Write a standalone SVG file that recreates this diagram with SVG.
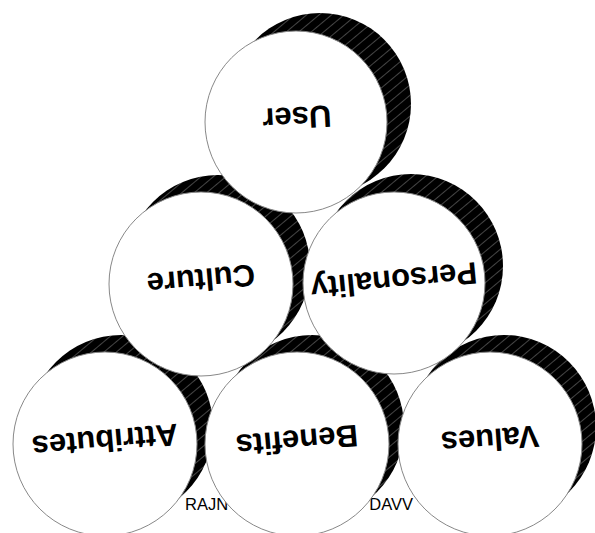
<svg xmlns="http://www.w3.org/2000/svg" width="595" height="533" viewBox="0 0 595 533">
  <defs>
    <pattern id="hatch" patternUnits="userSpaceOnUse" width="8" height="8" patternTransform="rotate(-40)">
      <rect width="8" height="8" fill="#000"/>
      <line x1="0" y1="0.5" x2="8" y2="0.5" stroke="#8a8a8a" stroke-width="0.5"/>
    </pattern>
  </defs>
  <style>
    .shadow { fill: url(#hatch); stroke: none; }
    .disc { fill: #fff; stroke: #888; stroke-width: 1; }
    .label { font-family: "Liberation Sans", Arial, sans-serif; font-weight: bold; font-size: 31px; fill: #000; text-anchor: middle; }
    .credit { font-family: "Liberation Sans", Arial, sans-serif; font-size: 16.5px; fill: #000; }
  </style>
  <rect width="595" height="533" fill="#fff"/>
  <g id="credit">
    <text class="credit" x="185" y="510">RAJN</text>
    <text class="credit" x="413" y="510" text-anchor="end">DAVV</text>
  </g>
  <g id="attributes">
    <circle class="shadow" cx="121" cy="427" r="92"/>
    <circle class="disc" cx="105" cy="444" r="92"/>
    <text class="label" transform="translate(105,441) rotate(175)" y="11">Attributes</text>
  </g>
  <g id="benefits">
    <circle class="shadow" cx="312" cy="427" r="92"/>
    <circle class="disc" cx="297" cy="444" r="92"/>
    <text class="label" transform="translate(297,441) rotate(175)" y="11">Benefits</text>
  </g>
  <g id="values">
    <circle class="shadow" cx="504" cy="427" r="92"/>
    <circle class="disc" cx="490" cy="444" r="92"/>
    <text class="label" transform="translate(490,440) rotate(176)" y="11">Values</text>
  </g>
  <g id="culture">
    <circle class="shadow" cx="218" cy="267" r="92"/>
    <circle class="disc" cx="201" cy="284" r="92"/>
    <text class="label" transform="translate(201,280) rotate(175)" y="11">Culture</text>
  </g>
  <g id="personality">
    <circle class="shadow" cx="411" cy="266" r="92"/>
    <circle class="disc" cx="394" cy="283" r="91"/>
    <text class="label" transform="translate(394,281) rotate(174.5)" y="11">Personality</text>
  </g>
  <g id="user">
    <circle class="shadow" cx="320" cy="104" r="91"/>
    <circle class="disc" cx="296" cy="122" r="91"/>
    <text class="label" transform="translate(297,118) rotate(177)" y="11">User</text>
  </g>
  <g id="connectors"/>
</svg>
